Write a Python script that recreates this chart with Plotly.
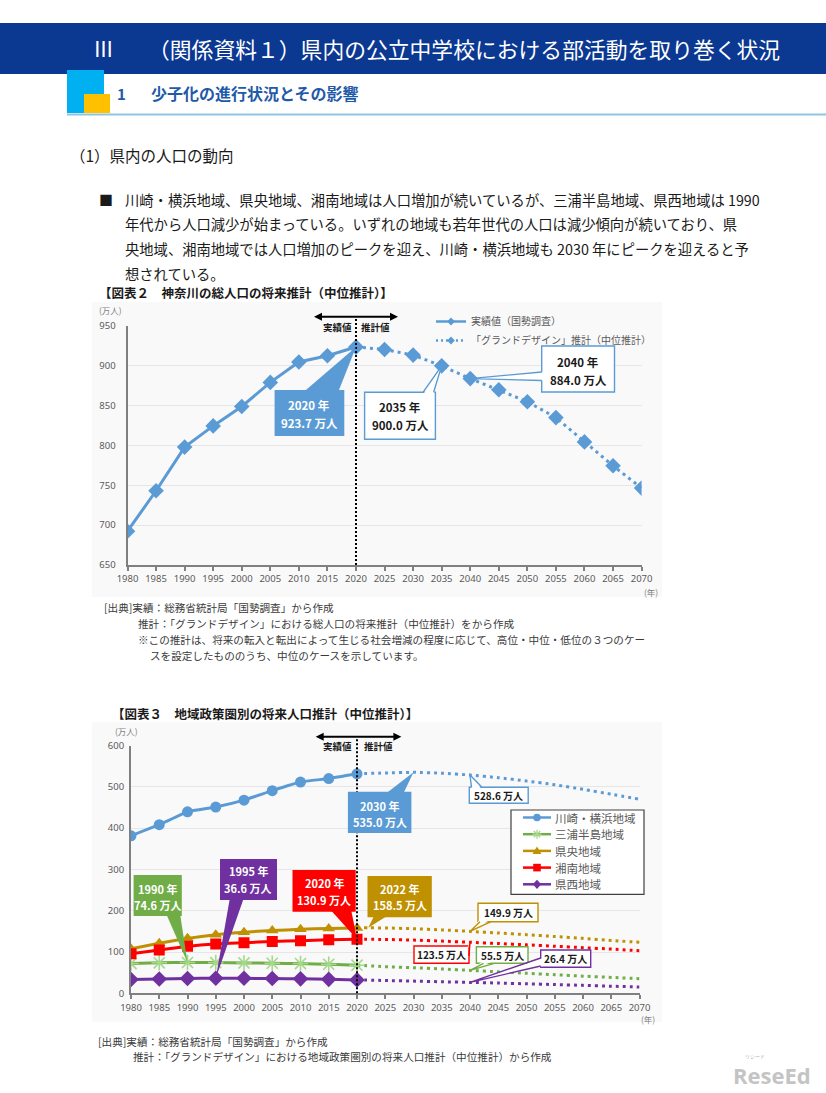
import math
import plotly.graph_objects as go

W, H = 826, 1093
FONT = "Noto Sans CJK JP, Noto Sans, sans-serif"


def fx(x):
    return x / W


def fy(y):
    return 1 - y / H


# ---------------- data ----------------
year_ticks = [1980, 1985, 1990, 1995, 2000, 2005, 2010, 2015, 2020, 2025,
              2030, 2035, 2040, 2045, 2050, 2055, 2060, 2065, 2070]
years_actual = [1980, 1985, 1990, 1995, 2000, 2005, 2010, 2015, 2020]
years_proj = [2020, 2025, 2030, 2035, 2040, 2045, 2050, 2055, 2060, 2065, 2070]

# Figure 2: total population of Kanagawa (10,000 persons)
total_actual = [692.4, 743.2, 798.0, 824.6, 849.0, 879.2, 904.8, 912.6, 923.7]
total_proj = [923.7, 920.5, 913.5, 900.0, 884.0, 870.0, 855.0, 835.0, 804.5, 774.5, 746.5]

# Figure 3: population by region
region_names = ["川崎・横浜地域", "三浦半島地域", "県央地域", "湘南地域", "県西地域"]
kawayoko_actual = [381.4, 408.2, 439.4, 451.0, 467.6, 490.6, 511.5, 520.0, 531.5]
kawayoko_proj = [531.5, 533.5, 535.0, 533.0, 528.6, 522.0, 514.0, 505.0, 494.0, 482.0, 470.0]
miura_actual = [72.0, 73.9, 74.6, 74.3, 73.5, 72.8, 72.0, 70.3, 68.0]
miura_proj = [68.0, 64.5, 62.0, 59.0, 55.5, 52.0, 48.5, 45.0, 41.5, 38.5, 35.5]
kenou_actual = [108.0, 121.0, 133.0, 142.0, 148.0, 152.0, 155.0, 157.0, 158.2]
kenou_proj_years = [2020, 2022, 2025, 2030, 2035, 2040, 2045, 2050, 2055, 2060, 2065, 2070]
kenou_proj = [158.2, 158.5, 158.2, 156.3, 153.5, 149.9, 146.0, 142.0, 137.5, 133.0, 128.0, 123.5]
shonan_actual = [96.0, 105.0, 114.0, 119.5, 122.5, 125.5, 127.5, 129.5, 130.9]
shonan_proj = [130.9, 130.3, 128.8, 126.4, 123.5, 120.5, 117.3, 114.0, 110.5, 107.0, 103.0]
kensei_actual = [33.5, 34.5, 35.7, 36.6, 36.3, 35.7, 35.0, 33.8, 32.5]
kensei_proj = [32.5, 31.0, 29.5, 28.0, 26.4, 24.8, 23.0, 21.2, 19.2, 17.2, 15.2]

# ---------------- styles ----------------
BLUE = '#5b9bd5'
GREEN = '#70ad47'
GREEN_M = '#a5d88a'
GOLD = '#bf9000'
RED = '#ff0000'
PURPLE = '#7030a0'
DOT = '3px,4px'

C1 = dict(x0=127.5, x1=641.6, y0=326.0, y1=565.0, xr=(1980, 2070), yr=(650, 950), xa='x', ya='y')
C2 = dict(x0=131.0, x1=639.5, y0=745.5, y1=993.3, xr=(1980, 2070), yr=(0, 600), xa='x2', ya='y2')


def p2d(C, X, Y):
    xr, yr = C['xr'], C['yr']
    dx = xr[0] + (X - C['x0']) / (C['x1'] - C['x0']) * (xr[1] - xr[0])
    dy = yr[1] - (Y - C['y0']) / (C['y1'] - C['y0']) * (yr[1] - yr[0])
    return dx, dy


fig = go.Figure()
shapes = []
ann = []


def txt(x, y, s, size, color='#1a1a1a', bold=False, xanchor='left', family=FONT):
    ann.append(dict(x=fx(x), y=fy(y), xref='paper', yref='paper', text=s, showarrow=False,
                    xanchor=xanchor, yanchor='middle',
                    font=dict(family=family, size=size, color=color, weight=700 if bold else 400)))


def prect(x0, y0, x1, y1, fill, line=None, lw=0, layer='above'):
    shapes.append(dict(type='rect', xref='paper', yref='paper', x0=fx(x0), x1=fx(x1),
                       y0=fy(y1), y1=fy(y0), fillcolor=fill, layer=layer,
                       line=dict(color=line or fill, width=lw)))


def ppoly(pts, fill):
    path = "M " + " L ".join(f"{fx(x)},{fy(y)}" for x, y in pts) + " Z"
    shapes.append(dict(type='path', xref='paper', yref='paper', path=path,
                       fillcolor=fill, line=dict(width=0)))


def pline(x0, y0, x1, y1, col, w, dash=None):
    ln = dict(color=col, width=w)
    if dash:
        ln['dash'] = dash
    shapes.append(dict(type='line', xref='paper', yref='paper', x0=fx(x0), x1=fx(x1),
                       y0=fy(y0), y1=fy(y1), line=ln))


# ---------------- page background elements ----------------
prect(0, 23, 826, 74, '#0b3891', layer='below')
prect(67, 70, 104, 113, '#00b0f0')
prect(84, 94, 110, 113, '#ffc000')
pline(67, 114.5, 826, 114.5, '#8ec5e0', 2)
prect(92, 302, 662, 597, '#f9f9f9', layer='below')
prect(92, 722, 662, 1022, '#f9f9f9', layer='below')

txt(103, 48.5, "Ⅲ", 21, 'white', xanchor='center')
txt(146, 48.5, "（関係資料１）県内の公立中学校における部活動を取り巻く状況", 21.8, 'white')
txt(122, 93, "1", 15, '#1f5aa8', bold=True, xanchor='center')
txt(149, 93, "少子化の進行状況とその影響", 16, '#1f5aa8', bold=True)
txt(68, 155, "（1）県内の人口の動向", 15.5)
txt(106, 199, "■", 14, xanchor='center')
para = ["川崎・横浜地域、県央地域、湘南地域は人口増加が続いているが、三浦半島地域、県西地域は 1990",
        "年代から人口減少が始まっている。いずれの地域も若年世代の人口は減少傾向が続いており、県",
        "央地域、湘南地域では人口増加のピークを迎え、川崎・横浜地域も 2030 年にピークを迎えると予",
        "想されている。"]
for i, line in enumerate(para):
    txt(123, 199 + i * 24.8, line, 14.3)

txt(97, 293, "【図表２　神奈川の総人口の将来推計（中位推計）】", 12.5, bold=True)
txt(110, 713, "【図表３　地域政策圏別の将来人口推計（中位推計）】", 12.5, bold=True)

src1 = [(102, 607, "[出典]実績：総務省統計局「国勢調査」から作成"),
        (136, 623, "推計：「グランドデザイン」における総人口の将来推計（中位推計）をから作成"),
        (136, 639, "※この推計は、将来の転入と転出によって生じる社会増減の程度に応じて、高位・中位・低位の３つのケー"),
        (148, 655, "スを設定したもののうち、中位のケースを示しています。")]
for x, y, s in src1:
    txt(x, y, s, 10.6, '#3a3a3a')
src2 = [(96, 1041, "[出典]実績：総務省統計局「国勢調査」から作成"),
        (131, 1056.5, "推計：「グランドデザイン」における地域政策圏別の将来人口推計（中位推計）から作成")]
for x, y, s in src2:
    txt(x, y, s, 10.6, '#3a3a3a')

txt(772, 1075, "ReseEd", 22, '#c4c4c4', bold=True, xanchor='center', family="Open Sans, sans-serif")
txt(755, 1055, "リシード", 5, '#b0b0b0', xanchor='center')

# axis unit labels
txt(111, 310, "(万人)", 8.5, '#7f7f7f', xanchor='center')
txt(651, 592, "(年)", 8.5, '#7f7f7f', xanchor='center')
txt(126, 731, "(万人)", 8.5, '#7f7f7f', xanchor='center')
txt(648, 1019, "(年)", 8.5, '#7f7f7f', xanchor='center')


# ---------------- actual / projection separators ----------------
def separator(C, arrow_y, xl, xr_, text_y, cl, cr):
    shapes.append(dict(type='line', xref=C['xa'], yref='paper', x0=2020, x1=2020,
                       y0=fy(C['y1']), y1=fy(arrow_y + 1),
                       line=dict(color='black', width=2, dash='2px,2px')))
    pline(xl + 4, arrow_y, xr_ - 4, arrow_y, 'black', 2)
    for tipx, d in ((xl, 1), (xr_, -1)):
        ppoly([(tipx, arrow_y), (tipx + d * 8, arrow_y - 4), (tipx + d * 8, arrow_y + 4)], 'black')
    txt(cl, text_y, "実績値", 9.5, '#1a1a1a', bold=True, xanchor='center')
    txt(cr, text_y, "推計値", 9.5, '#1a1a1a', bold=True, xanchor='center')


separator(C1, 316.7, 314, 398, 326.5, 337, 375)
separator(C2, 736.7, 315.7, 401.4, 746, 337, 378)


# ---------------- callouts ----------------
def callout(C, box, base, tip, lines, fill=None, border=None, size=11):
    bx0, by0, bx1, by1 = box
    (ax_, ay_), (cx_, cy_) = base
    if abs(ay_ - by0) < 0.6 and abs(cy_ - by0) < 0.6:
        inward = (0, 2.5)
    elif abs(ay_ - by1) < 0.6 and abs(cy_ - by1) < 0.6:
        inward = (0, -2.5)
    elif abs(ax_ - bx0) < 0.6:
        inward = (2.5, 0)
    else:
        inward = (-2.5, 0)
    tx, ty = tip
    a_in = p2d(C, ax_ + inward[0], ay_ + inward[1])
    c_in = p2d(C, cx_ + inward[0], cy_ + inward[1])
    if fill:
        shapes.append(dict(type='path', xref=C['xa'], yref=C['ya'],
                           path=f"M {a_in[0]},{a_in[1]} L {tx},{ty} L {c_in[0]},{c_in[1]} Z",
                           fillcolor=fill, line=dict(width=0)))
        prect(bx0, by0, bx1, by1, fill)
        tcol = 'white'
    else:
        prect(bx0, by0, bx1, by1, 'white', border, 1.4)
        shapes.append(dict(type='path', xref=C['xa'], yref=C['ya'],
                           path=f"M {a_in[0]},{a_in[1]} L {tx},{ty} L {c_in[0]},{c_in[1]} Z",
                           fillcolor='white', line=dict(width=0)))
        a = p2d(C, ax_, ay_)
        c = p2d(C, cx_, cy_)
        shapes.append(dict(type='path', xref=C['xa'], yref=C['ya'],
                           path=f"M {a[0]},{a[1]} L {tx},{ty} L {c[0]},{c[1]}",
                           fillcolor='rgba(0,0,0,0)', line=dict(color=border, width=1.4)))
        tcol = '#1a1a1a'
    cx = (bx0 + bx1) / 2
    for s, y in lines:
        txt(cx, y, s, size, tcol, bold=True, xanchor='center')


def yl(y):
    return f"{y} 年"


def vl(v):
    return f"{v:.1f} 万人"


# Figure 2 callouts
callout(C1, (274.6, 390, 344.3, 436), ((303, 390), (338, 390)),
        (years_actual[-1], total_actual[-1]),
        [(yl(years_actual[-1]), 405), (vl(total_actual[-1]), 423)], fill=BLUE, size=11.5)
callout(C1, (364.6, 392.3, 435.4, 439.3), ((423, 392.3), (433.6, 392.3)),
        (years_proj[3], total_proj[3]),
        [(yl(years_proj[3]), 407), (vl(total_proj[3]), 425)], border=BLUE, size=11.5)
callout(C1, (541.7, 346, 614.5, 392), ((541.7, 372), (541.7, 380.5)),
        (years_proj[4], total_proj[4]),
        [(yl(years_proj[4]), 362), (vl(total_proj[4]), 380)], border=BLUE, size=11.5)

# Figure 3 callouts
callout(C2, (347.9, 791.7, 411.4, 833), ((385, 791.7), (403, 791.7)),
        (years_proj[2], kawayoko_proj[2]),
        [(yl(years_proj[2]), 806), (vl(kawayoko_proj[2]), 822)], fill=BLUE, size=11)
callout(C2, (469.3, 787.3, 528.2, 803.3), ((471.5, 787.3), (482, 787.3)),
        (years_proj[4], kawayoko_proj[4]),
        [(vl(kawayoko_proj[4]), 795.5)], border=BLUE, size=10)
callout(C2, (133.6, 875, 181.8, 916), ((166, 916), (180, 916)),
        (years_actual[2], miura_actual[2]),
        [(yl(years_actual[2]), 888.5), (vl(miura_actual[2]), 905)], fill=GREEN, size=11)
callout(C2, (220, 859, 277, 900), ((230, 900), (244, 900)),
        (years_actual[3], kensei_actual[3]),
        [(yl(years_actual[3]), 871), (vl(kensei_actual[3]), 887.5)], fill=PURPLE, size=11)
callout(C2, (292.5, 870, 355.7, 911.7), ((330, 911.7), (351, 911.7)),
        (years_actual[-1], shonan_actual[-1]),
        [(yl(years_actual[-1]), 883), (vl(shonan_actual[-1]), 899.5)], fill=RED, size=11)
callout(C2, (367.5, 876, 431.8, 917.3), ((374.6, 917.3), (389, 917.3)),
        (kenou_proj_years[1], kenou_proj[1]),
        [(yl(kenou_proj_years[1]), 888.5), (vl(kenou_proj[1]), 905)], fill=GOLD, size=11)
callout(C2, (478, 903.3, 538, 921.7), ((480, 921.7), (491, 921.7)),
        (kenou_proj_years[5], kenou_proj[5]),
        [(vl(kenou_proj[5]), 912)], border=GOLD, size=10)
callout(C2, (414, 946, 469, 963.3), ((469, 949), (469, 956)),
        (years_proj[4], shonan_proj[4]),
        [(vl(shonan_proj[4]), 954.5)], border=RED, size=10)
callout(C2, (476.4, 946.7, 528, 963.3), ((483.6, 963.3), (494.3, 963.3)),
        (years_proj[4], miura_proj[4]),
        [(vl(miura_proj[4]), 955)], border=GREEN, size=10)
callout(C2, (540.7, 950, 590.7, 967.3), ((540.7, 958), (540.7, 966)),
        (years_proj[4], kensei_proj[4]),
        [(vl(kensei_proj[4]), 958.5)], border=PURPLE, size=10)

# ---------------- Figure 3 legend (drawn box) ----------------
prect(511, 810, 644, 894.3, 'white', '#404040', 1.2)
leg_rows = [817.5, 834.2, 850.9, 867.6, 884.3]
leg_cols = [BLUE, GREEN, GOLD, RED, PURPLE]
for i, (yrow, col, name) in enumerate(zip(leg_rows, leg_cols, region_names)):
    pline(523, yrow, 551, yrow, col, 2.5)
    cx, r = 537, 3.8
    if i == 0:
        shapes.append(dict(type='circle', xref='paper', yref='paper', x0=fx(cx - r), x1=fx(cx + r),
                           y0=fy(yrow + r), y1=fy(yrow - r), fillcolor=col, line=dict(width=0)))
    elif i == 1:
        for k in range(4):
            ang = k * math.pi / 4
            dx, dy = 4.5 * math.cos(ang), 4.5 * math.sin(ang)
            pline(cx - dx, yrow - dy, cx + dx, yrow + dy, GREEN_M, 1.3)
    elif i == 2:
        ppoly([(cx, yrow - 4.5), (cx + 4.5, yrow + 3.2), (cx - 4.5, yrow + 3.2)], col)
    elif i == 3:
        prect(cx - 3.8, yrow - 3.8, cx + 3.8, yrow + 3.8, col)
    else:
        ppoly([(cx, yrow - 4.6), (cx + 4.2, yrow), (cx, yrow + 4.6), (cx - 4.2, yrow)], col)
    txt(552.5, yrow, name, 11.5, '#595959')

# ---------------- traces: Figure 2 ----------------
fig.add_trace(go.Scatter(x=years_actual, y=total_actual, mode='lines+markers', xaxis='x', yaxis='y',
                         line=dict(color=BLUE, width=3),
                         marker=dict(symbol='diamond', size=12, color=BLUE), showlegend=False))
fig.add_trace(go.Scatter(x=years_proj, y=total_proj, mode='lines+markers', xaxis='x', yaxis='y',
                         line=dict(color=BLUE, width=3, dash=DOT),
                         marker=dict(symbol='diamond', size=12, color=BLUE), showlegend=False))
fig.add_trace(go.Scatter(x=[None], y=[None], mode='lines+markers', xaxis='x', yaxis='y',
                         name="実績値（国勢調査）", legend='legend',
                         line=dict(color=BLUE, width=2.5), marker=dict(symbol='diamond', size=6, color=BLUE)))
fig.add_trace(go.Scatter(x=[None], y=[None], mode='lines+markers', xaxis='x', yaxis='y',
                         name="「グランドデザイン」推計（中位推計）", legend='legend',
                         line=dict(color=BLUE, width=2.5, dash='2px,3px'),
                         marker=dict(symbol='diamond', size=6, color=BLUE)))

# ---------------- traces: Figure 3 ----------------
series = [
    (years_actual, kawayoko_actual, years_proj, kawayoko_proj, BLUE,
     dict(symbol='circle', size=11, color=BLUE)),
    (years_actual, miura_actual, years_proj, miura_proj, GREEN,
     dict(symbol='asterisk-open', size=13, color=GREEN_M, line=dict(width=1.6, color=GREEN_M))),
    (years_actual, kenou_actual, kenou_proj_years, kenou_proj, GOLD,
     dict(symbol='triangle-up', size=11, color=GOLD)),
    (years_actual, shonan_actual, years_proj, shonan_proj, RED,
     dict(symbol='square', size=11, color=RED)),
    (years_actual, kensei_actual, years_proj, kensei_proj, PURPLE,
     dict(symbol='diamond', size=12, color=PURPLE)),
]
for (xa, ya, xp, yp, col, mk), name in zip(series, region_names):
    fig.add_trace(go.Scatter(x=xp, y=yp, mode='lines', xaxis='x2', yaxis='y2', name=name,
                             line=dict(color=col, width=3, dash=DOT, shape='spline', smoothing=0.6),
                             showlegend=False))
for (xa, ya, xp, yp, col, mk), name in zip(series, region_names):
    fig.add_trace(go.Scatter(x=xa, y=ya, mode='lines+markers', xaxis='x2', yaxis='y2', name=name,
                             line=dict(color=col, width=3, shape='spline', smoothing=0.4),
                             marker=mk, showlegend=False))

# ---------------- layout ----------------
TICKFONT = dict(family="Noto Sans, sans-serif", size=9.5, color='#595959')
AXC = '#808080'


def xaxis(C, anchor):
    return dict(domain=[fx(C['x0']), fx(C['x1'])], range=list(C['xr']), anchor=anchor,
                tickmode='array', tickvals=year_ticks, ticktext=[str(t) for t in year_ticks],
                ticks='outside', ticklen=4, tickwidth=1.5, tickcolor=AXC,
                showline=True, linecolor=AXC, linewidth=2, showgrid=False, zeroline=False,
                tickfont=TICKFONT, fixedrange=True)


def yaxis(C, anchor, dtick, standoff):
    return dict(domain=[fy(C['y1']), fy(C['y0'])], range=list(C['yr']), anchor=anchor,
                dtick=dtick, ticks='', showline=True, linecolor=AXC, linewidth=2,
                showgrid=True, gridcolor='#e6e6e6', gridwidth=1, zeroline=False,
                tickfont=TICKFONT, ticklabelstandoff=standoff, fixedrange=True)


fig.update_layout(
    width=W, height=H, margin=dict(l=0, r=0, t=0, b=0), template='none',
    paper_bgcolor='white', plot_bgcolor='rgba(0,0,0,0)', hovermode=False,
    xaxis=xaxis(C1, 'y'), yaxis=yaxis(C1, 'x', 50, 8),
    xaxis2=xaxis(C2, 'y2'), yaxis2=yaxis(C2, 'x2', 100, 3),
    legend=dict(x=fx(431), y=fy(307), xanchor='left', yanchor='top', bgcolor='rgba(0,0,0,0)',
                font=dict(family=FONT, size=10, color='#595959'), itemwidth=30,
                tracegroupgap=0, borderwidth=0),
    shapes=shapes, annotations=ann,
)

fig.write_html("out.html")
